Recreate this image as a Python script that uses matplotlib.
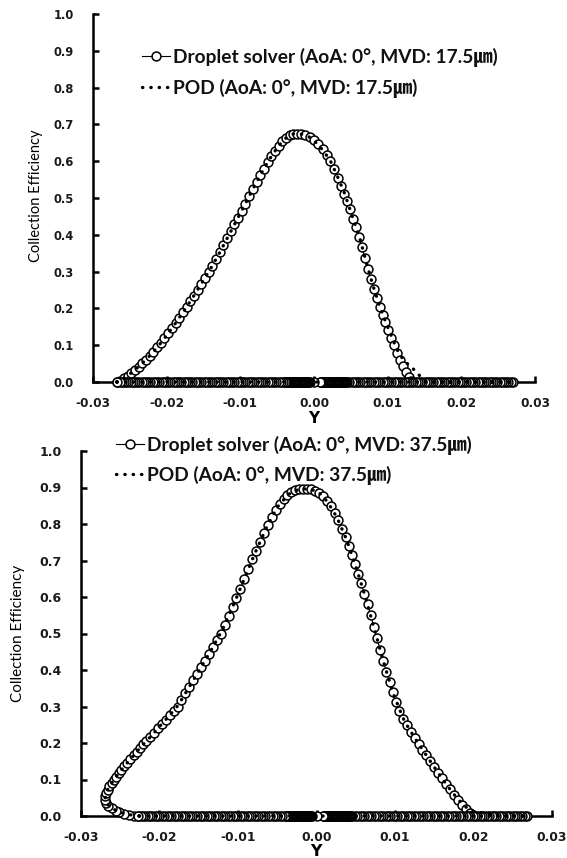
import matplotlib
matplotlib.use("Agg")
import matplotlib.pyplot as plt
from matplotlib.lines import Line2D

# ---- top chart : AoA 0, MVD 17.5 ----
# droplet solver, impinged part (Y, collection efficiency)
top_hump_y = [
    -0.0267, -0.0263, -0.0258, -0.0253, -0.0248, -0.0243, -0.0238, -0.0233, -0.0228, -0.0223,
    -0.0218, -0.0213, -0.0208, -0.0203, -0.0198, -0.0193, -0.0188, -0.0183, -0.0178, -0.0173,
    -0.0168, -0.0163, -0.0158, -0.0153, -0.0148, -0.0143, -0.0138, -0.0133, -0.0128, -0.0123,
    -0.0118, -0.0113, -0.0108, -0.0103, -0.0098, -0.0093, -0.0088, -0.0083, -0.0078, -0.0073,
    -0.0068, -0.0063, -0.0058, -0.0053, -0.0048, -0.0043, -0.0038, -0.0033, -0.0028, -0.0023,
    -0.0018, -0.0012, -0.0006, 0.0000, 0.0006, 0.0012, 0.0017, 0.0022, 0.0027, 0.0032,
    0.0037, 0.0041, 0.0045, 0.0049, 0.0053, 0.0057, 0.0061, 0.0065, 0.0069, 0.0073,
    0.0077, 0.0081, 0.0085, 0.0089, 0.0093, 0.0097, 0.0101, 0.0105, 0.0109, 0.0113,
    0.0117, 0.0121, 0.0125, 0.0129, 0.0132]
top_hump_b = [
    0.000, 0.004, 0.010, 0.017, 0.025, 0.033, 0.042, 0.051, 0.061, 0.071,
    0.082, 0.094, 0.106, 0.119, 0.132, 0.146, 0.160, 0.174, 0.189, 0.204,
    0.219, 0.235, 0.251, 0.267, 0.283, 0.299, 0.316, 0.334, 0.352, 0.371,
    0.390, 0.409, 0.428, 0.447, 0.466, 0.485, 0.505, 0.524, 0.543, 0.562,
    0.580, 0.597, 0.613, 0.628, 0.642, 0.654, 0.663, 0.670, 0.674, 0.675,
    0.674, 0.671, 0.666, 0.658, 0.647, 0.633, 0.618, 0.600, 0.578, 0.555,
    0.532, 0.512, 0.493, 0.469, 0.444, 0.420, 0.394, 0.366, 0.337, 0.307,
    0.280, 0.253, 0.228, 0.205, 0.183, 0.162, 0.141, 0.120, 0.100, 0.080,
    0.061, 0.043, 0.027, 0.013, 0.004]
# droplet solver, non impinged surface (beta = 0), Y in 1e-4
# (points get very dense close to the leading edge, around Y = 0)
top_band_e4 = [
    270, 267, 264, 261, 258, 255, 252, 249, 246, 243, 240, 237, 234, 231, 228,
    225, 222, 219, 216, 213, 210, 207, 204, 201, 198, 195, 192, 189, 186, 183,
    180, 177, 174, 171, 168, 165, 162, 159, 156, 153, 150, 147, 144, 141, 138,
    135, 132, 129, 126, 123, 120, 117, 114, 111, 108, 105, 102, 99, 96, 93,
    90, 87, 84, 81, 78, 75, 72, 69, 66, 63, 60, 57, 54, 51, 48,
    45, 44, 43, 42, 41, 40, 39, 38, 37, 36, 35, 34, 33, 32, 31, 30, 29, 28, 27,
    26, 25, 24, 23, 22, 21, 20, 19, 18, 17, 16, 15, 14, 13, 12, 11, 10, 9, 8,
    0,
    -6, -7, -8, -9, -10, -11, -12, -13, -14, -15, -16, -17, -18, -19, -20, -21, -22, -23,
    -24, -25, -26, -27, -28, -29, -30, -31, -32, -33, -34, -35, -36, -37, -38, -39, -40,
    -42, -45, -48, -51, -54, -57, -60, -63, -66, -69, -72, -75, -78, -81, -84, -87,
    -90, -93, -96, -99, -102, -105, -108, -111, -114, -117, -120, -123, -126, -129, -132,
    -135, -138, -141, -144, -147, -150, -153, -156, -159, -162, -165, -168, -171, -174, -177,
    -180, -183, -186, -189, -192, -195, -198, -201, -204, -207, -210, -213, -216, -219, -222,
    -225, -228, -231, -234, -237, -240, -243, -246, -249, -252, -255, -258, -261, -264, -267]
# POD
top_pod_y = [
    -0.0268, -0.0258, -0.0248, -0.0238, -0.0228, -0.0218, -0.0208, -0.0198, -0.0188, -0.0178,
    -0.0168, -0.0158, -0.0148, -0.0138, -0.0128, -0.0118, -0.0108, -0.0098, -0.0088, -0.0078,
    -0.0068, -0.0058, -0.0048, -0.0038, -0.0028, -0.0018, -0.0008, 0.0002, 0.0012, 0.0022,
    0.0032, 0.0042, 0.0052, 0.0062, 0.0072, 0.0080, 0.0088, 0.0096, 0.0104, 0.0112,
    0.0118, 0.0124, 0.0130, 0.0135, 0.0140, 0.0145, 0.0150, 0.0155, 0.0270, -0.0268]
top_pod_b = [
    0.000, 0.010, 0.025, 0.042, 0.061, 0.082, 0.106, 0.132, 0.160, 0.189,
    0.219, 0.251, 0.283, 0.316, 0.352, 0.390, 0.428, 0.466, 0.505, 0.543,
    0.580, 0.613, 0.642, 0.663, 0.674, 0.674, 0.668, 0.652, 0.630, 0.602,
    0.558, 0.510, 0.450, 0.392, 0.318, 0.262, 0.213, 0.170, 0.130, 0.091,
    0.070, 0.055, 0.044, 0.035, 0.024, 0.014, 0.005, 0.000, 0.000, 0.000]

# ---- bottom chart : AoA 0, MVD 37.5 ----
bot_hump_y = [
    -0.0228, -0.0233, -0.0239, -0.0245, -0.0251, -0.0256, -0.0261, -0.0265, -0.0268, -0.0269,
    -0.0269, -0.0268, -0.0266, -0.0264, -0.0261, -0.0258, -0.0255, -0.0252, -0.0249, -0.0245,
    -0.0241, -0.0237, -0.0233, -0.0229, -0.0225, -0.0221, -0.0217, -0.0212, -0.0207, -0.0202,
    -0.0197, -0.0192, -0.0187, -0.0182, -0.0177, -0.0172, -0.0167, -0.0162, -0.0157, -0.0152,
    -0.0147, -0.0142, -0.0137, -0.0132, -0.0127, -0.0122, -0.0117, -0.0112, -0.0107, -0.0102,
    -0.0097, -0.0092, -0.0087, -0.0082, -0.0077, -0.0072, -0.0067, -0.0062, -0.0057, -0.0052,
    -0.0047, -0.0042, -0.0037, -0.0032, -0.0027, -0.0022, -0.0017, -0.0012,
    -0.0007, -0.0002, 0.0003, 0.0008, 0.0013, 0.0018, 0.0023, 0.0028, 0.0033, 0.0037,
    0.0041, 0.0045, 0.0049, 0.0053, 0.0057, 0.0061, 0.0065, 0.0069, 0.0073, 0.0077,
    0.0081, 0.0085, 0.0089, 0.0093, 0.0097, 0.0101, 0.0105, 0.0110, 0.0115, 0.0120,
    0.0125, 0.0130, 0.0135, 0.0140, 0.0145, 0.0150, 0.0155, 0.0160, 0.0165, 0.0170,
    0.0175, 0.0180, 0.0185, 0.0190, 0.0195, 0.0199]
bot_hump_b = [
    0.000, 0.001, 0.003, 0.006, 0.010, 0.015, 0.021, 0.028, 0.036, 0.045,
    0.054, 0.063, 0.072, 0.081, 0.090, 0.099, 0.108, 0.117, 0.126, 0.136,
    0.146, 0.156, 0.166, 0.176, 0.186, 0.196, 0.206, 0.216, 0.228, 0.240,
    0.252, 0.264, 0.276, 0.288, 0.300, 0.318, 0.336, 0.354, 0.372, 0.390,
    0.408, 0.426, 0.444, 0.462, 0.481, 0.500, 0.524, 0.548, 0.572, 0.596,
    0.623, 0.650, 0.677, 0.703, 0.727, 0.751, 0.775, 0.798, 0.820, 0.839,
    0.855, 0.868, 0.879, 0.887, 0.893, 0.896, 0.897, 0.897,
    0.895, 0.891, 0.885, 0.876, 0.864, 0.849, 0.831, 0.810, 0.787, 0.765,
    0.740, 0.715, 0.690, 0.664, 0.637, 0.609, 0.580, 0.550, 0.518, 0.487,
    0.456, 0.425, 0.395, 0.367, 0.340, 0.313, 0.289, 0.267, 0.248, 0.231,
    0.214, 0.198, 0.182, 0.166, 0.150, 0.134, 0.118, 0.103, 0.088, 0.073,
    0.058, 0.044, 0.031, 0.019, 0.009, 0.003]
bot_band_e4 = [
    268, 265, 262, 259, 256, 253, 250, 247, 244, 241, 238, 235, 232, 229, 226,
    223, 220, 217, 214, 211, 208, 205, 202, 199, 196, 193, 190, 187, 184, 181,
    178, 175, 172, 169, 166, 163, 160, 157, 154, 151, 148, 145, 142, 139, 136,
    133, 130, 127, 124, 121, 118, 115, 112, 109, 106, 103, 100, 97, 94, 91,
    88, 85, 82, 79, 76, 73, 70, 67, 64, 61, 58, 55, 52, 49,
    45, 44, 43, 42, 41, 40, 39, 38, 37, 36, 35, 34, 33, 32, 31, 30, 29, 28, 27,
    26, 25, 24, 23, 22, 21, 20, 19, 18, 17, 16, 15, 14, 13, 12, 11, 10, 9, 8,
    0,
    -6, -7, -8, -9, -10, -11, -12, -13, -14, -15, -16, -17, -18, -19, -20, -21, -22, -23,
    -24, -25, -26, -27, -28, -29, -30, -31, -32, -33, -34, -35, -36, -37, -38, -39, -40,
    -44, -47, -50, -53, -56, -59, -62, -65, -68, -71, -74, -77, -80, -83, -86, -89,
    -92, -95, -98, -101, -104, -107, -110, -113, -116, -119, -122, -125, -128, -131, -134,
    -137, -140, -143, -146, -149, -152, -155, -158, -161, -164, -167, -170, -173, -176, -179,
    -182, -185, -188, -191, -194, -197, -200, -203, -206, -209, -212, -215, -218, -221, -224,
    -227]
bot_pod_y = [
    -0.0226, -0.0240, -0.0252, -0.0262, -0.0268, -0.0269, -0.0266, -0.0260, -0.0252, -0.0243,
    -0.0233, -0.0223, -0.0212, -0.0200, -0.0188, -0.0176, -0.0162, -0.0148, -0.0134, -0.0120,
    -0.0106, -0.0092, -0.0078, -0.0064, -0.0050, -0.0036, -0.0022, -0.0010, 0.0002, 0.0014,
    0.0026, 0.0038, 0.0050, 0.0062, 0.0074, 0.0086, 0.0098, 0.0112, 0.0126, 0.0140,
    0.0154, 0.0168, 0.0180, 0.0190, 0.0196, 0.0202, 0.0212, 0.0222, 0.0230, 0.0268, -0.0226]
bot_pod_b = [
    0.000, 0.004, 0.011, 0.023, 0.036, 0.050, 0.072, 0.093, 0.117, 0.141,
    0.166, 0.191, 0.216, 0.245, 0.274, 0.304, 0.354, 0.404, 0.455, 0.510,
    0.577, 0.650, 0.722, 0.789, 0.846, 0.881, 0.896, 0.896, 0.889, 0.861,
    0.818, 0.759, 0.684, 0.602, 0.510, 0.418, 0.334, 0.260, 0.211, 0.166,
    0.121, 0.079, 0.046, 0.025, 0.016, 0.011, 0.009, 0.007, 0.000, 0.000, 0.000]

y_ticks = [0.0, 0.1, 0.2, 0.3, 0.4, 0.5, 0.6, 0.7, 0.8, 0.9, 1.0]
x_ticks = [-0.03, -0.02, -0.01, 0.00, 0.01, 0.02, 0.03]

W, H = 567, 858
fig = plt.figure(figsize=(W / 100, H / 100), dpi=100)
fig.patch.set_facecolor("white")

leg_font = ["Lato", "Noto Sans CJK KR", "DejaVu Sans"]
MS, MEW = 6.4, 1.1


def px_axes(left, top, right, bottom):
    return fig.add_axes([left / W, 1 - bottom / H, (right - left) / W, (bottom - top) / H])


def draw_panel(ax, hump_y, hump_b, band_e4, pod_y, pod_b, ylab_size, xlab_size):
    band_y = [v * 1e-4 for v in band_e4]
    sol_y = hump_y + band_y
    sol_b = hump_b + [0.0] * len(band_y)
    ax.plot(sol_y, sol_b, color="black", lw=0.8, marker="o", ms=MS,
            mfc="white", mec="black", mew=MEW, clip_on=False, zorder=3)
    ax.plot(pod_y, pod_b, color="black", lw=2.4, linestyle=(0, (0.1, 2.4)),
            dash_capstyle="round", clip_on=False, zorder=4)

    ax.set_xlim(-0.03, 0.03)
    ax.set_ylim(0, 1.0)
    ax.set_xticks(x_ticks)
    ax.set_xticklabels(["%.2f" % v for v in x_ticks])
    ax.set_yticks(y_ticks)
    ax.set_yticklabels(["%.1f" % v for v in y_ticks])
    for s in ["top", "right"]:
        ax.spines[s].set_visible(False)
    for s in ["left", "bottom"]:
        ax.spines[s].set_linewidth(1.8)
        ax.spines[s].set_zorder(2)
    ax.tick_params(axis="y", direction="in", length=4, width=1.8, pad=14,
                   labelsize=ylab_size)
    ax.tick_params(axis="x", direction="in", length=4, width=1.8, pad=11,
                   labelsize=xlab_size)
    for lab in ax.get_xticklabels() + ax.get_yticklabels():
        lab.set_fontweight("bold")
        lab.set_color("#1a1a1a")
    ax.patch.set_alpha(0)


def legend_row(handle, text, x_px, y_px, size):
    # one legend per row so each row sits exactly where the reference has it
    leg = fig.legend([handle], [text], loc="center left",
                     bbox_to_anchor=(x_px / W, 1 - y_px / H),
                     frameon=False, borderpad=0, borderaxespad=0,
                     handlelength=1.45, handletextpad=0.15, numpoints=1,
                     prop={"family": leg_font, "weight": "bold", "size": size})
    leg.get_texts()[0].set_color("#111111")
    return leg


def handles():
    h1 = Line2D([], [], color="black", lw=0.8, marker="o", ms=MS,
                mfc="white", mec="black", mew=MEW)
    h2 = Line2D([], [], color="black", lw=2.4, linestyle=(0, (0.1, 2.4)),
                dash_capstyle="round")
    return h1, h2


# top panel
ax1 = px_axes(93, 14, 535, 382)
draw_panel(ax1, top_hump_y, top_hump_b, top_band_e4, top_pod_y, top_pod_b, 8.3, 8.7)
h1, h2 = handles()
legend_row(h1, "Droplet solver (AoA: 0°, MVD: 17.5㎛)", 142, 57, 13.8)
legend_row(h2, "POD (AoA: 0°, MVD: 17.5㎛)", 142, 88, 13.8)
fig.text(314 / W, 1 - 418 / H, "Y", ha="center", va="center",
         fontsize=11, fontweight="bold", family="DejaVu Sans")
fig.text(36 / W, 1 - 196 / H, "Collection Efficiency", rotation=90,
         ha="center", va="center", fontsize=10.5, family="Lato")

# bottom panel
ax2 = px_axes(81, 451, 552, 816)
draw_panel(ax2, bot_hump_y, bot_hump_b, bot_band_e4, bot_pod_y, bot_pod_b, 9.0, 8.9)
h1, h2 = handles()
legend_row(h1, "Droplet solver (AoA: 0°, MVD: 37.5㎛)", 116, 445, 13.8)
legend_row(h2, "POD (AoA: 0°, MVD: 37.5㎛)", 116, 475, 13.8)
fig.text(316 / W, 1 - 851 / H, "Y", ha="center", va="center",
         fontsize=11.5, fontweight="bold", family="DejaVu Sans")
fig.text(18 / W, 1 - 633 / H, "Collection Efficiency", rotation=90,
         ha="center", va="center", fontsize=11, family="Lato")

fig.savefig("out.png", dpi=100, facecolor="white")
